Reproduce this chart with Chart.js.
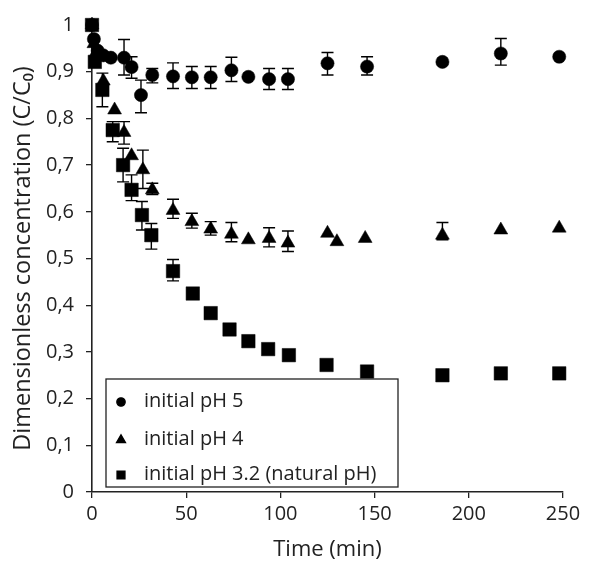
<!DOCTYPE html>
<html>
<head>
<meta charset="utf-8">
<script src="https://cdn.jsdelivr.net/npm/chart.js@4"></script>
<style>
  body { margin: 0; background: #fff; }
  #wrap { width: 599px; height: 565px; }
</style>
</head>
<body>
<div id="wrap"><canvas id="conc-chart" width="599" height="565"></canvas></div>
<script>
// time (min) and C/C0
var ph5Time = [0, 1, 3, 6, 10, 17, 21, 26, 32, 43, 53, 63, 74, 83, 94, 104, 125, 146, 186, 217, 248];
var ph5Conc = [1.0, 0.97, 0.945, 0.935, 0.93, 0.93, 0.91, 0.85, 0.893, 0.89, 0.888, 0.888, 0.903, 0.889, 0.884, 0.884, 0.918, 0.911, 0.921, 0.939, 0.932];
var ph5ErrHi = [null, null, null, null, null, 0.969, 0.932, 0.882, 0.907, 0.919, 0.911, 0.911, 0.931, null, 0.907, 0.907, 0.941, 0.932, null, 0.971, null];
var ph5ErrLo = [null, null, null, null, null, 0.893, 0.886, 0.812, 0.876, 0.864, 0.864, 0.864, 0.879, null, 0.862, 0.862, 0.893, 0.893, null, 0.914, null];

var ph4Time = [0, 1, 2, 6, 12, 17, 21, 27, 32, 43, 53, 63, 74, 83, 94, 104, 125, 130, 145, 186, 217, 248];
var ph4Conc = [1.0, 0.96, 0.94, 0.88, 0.818, 0.77, 0.72, 0.69, 0.647, 0.603, 0.579, 0.563, 0.552, 0.54, 0.543, 0.533, 0.554, 0.536, 0.543, 0.55, 0.561, 0.565];
var ph4ErrHi = [null, null, null, null, null, 0.793, null, 0.732, 0.661, 0.627, 0.597, 0.579, 0.577, null, 0.566, 0.559, null, null, null, 0.577, null, null];
var ph4ErrLo = [null, null, null, null, null, 0.745, null, 0.65, 0.637, 0.586, 0.565, 0.55, 0.536, null, 0.525, 0.515, null, null, null, 0.54, null, null];

var ph32Time = [0, 1.5, 5.5, 11, 16.5, 21, 26.5, 31.5, 43, 53.5, 63, 73, 83, 93.5, 104.5, 124.5, 146, 186, 217, 248];
var ph32Conc = [1.0, 0.921, 0.861, 0.775, 0.70, 0.647, 0.593, 0.55, 0.473, 0.425, 0.383, 0.348, 0.323, 0.306, 0.293, 0.272, 0.258, 0.25, 0.254, 0.254];
var ph32ErrHi = [null, null, 0.897, 0.793, 0.736, 0.679, 0.622, 0.575, 0.498, null, null, null, null, null, null, null, null, null, null, null];
var ph32ErrLo = [null, null, 0.825, 0.75, 0.664, 0.624, 0.561, 0.52, 0.452, null, null, null, null, null, null, null, null, null, null, null];

var seriesLabels = ["initial pH 5", "initial pH 4", "initial pH 3.2 (natural pH)"];
var xTitle = "Time (min)";
var yTitle = "Dimensionless concentration (C/C\u2080)";

var ink = "#000";
var axisColor = "#222";
var textColor = "#222";

function toPoints(xs, ys) {
    return xs.map(function (x, i) { return { x: x, y: ys[i] }; });
}

// vertical error bars with caps, drawn under the markers
var errorBars = {
    id: "errorBars",
    beforeDatasetsDraw: function (chart) {
        let ctx = chart.ctx;
        let xs = chart.scales.x, ys = chart.scales.y;
        ctx.save();
        ctx.strokeStyle = ink;
        ctx.lineWidth = 1.4;
        chart.data.datasets.forEach(function (ds) {
            ds.data.forEach(function (p, i) {
                let hi = ds.errHi[i], lo = ds.errLo[i];
                if (hi == null) return;
                let px = xs.getPixelForValue(p.x);
                let yHi = ys.getPixelForValue(hi);
                let yLo = ys.getPixelForValue(lo);
                ctx.beginPath();
                ctx.moveTo(px, yHi); ctx.lineTo(px, yLo);
                ctx.moveTo(px - 6, yHi); ctx.lineTo(px + 6, yHi);
                ctx.moveTo(px - 6, yLo); ctx.lineTo(px + 6, yLo);
                ctx.stroke();
            });
        });
        ctx.restore();
    }
};

// boxed legend in the lower left of the plot
var boxLegend = {
    id: "boxLegend",
    afterDraw: function (chart) {
        let ctx = chart.ctx;
        let area = chart.chartArea;
        let left = area.left + 14, top = area.bottom - 113;
        let w = 292, h = 108;
        ctx.save();
        ctx.fillStyle = "#fff";
        ctx.fillRect(left, top, w, h);
        ctx.strokeStyle = axisColor;
        ctx.lineWidth = 1.3;
        ctx.strokeRect(left, top, w, h);
        let rows = [22, 60, 95];
        let sizes = [4.2, 5.2, 5.6];
        ctx.font = "20px 'Open Sans'";
        ctx.textBaseline = "middle";
        chart.data.datasets.forEach(function (ds, i) {
            ctx.fillStyle = ink;
            ctx.strokeStyle = ink;
            Chart.helpers.drawPoint(ctx, { pointStyle: ds.pointStyle, radius: sizes[i], borderWidth: 0.5, rotation: 0 },
                left + 15, top + rows[i] + 1);
            ctx.fillStyle = textColor;
            ctx.fillText(ds.label, left + 38, top + rows[i]);
        });
        ctx.restore();
    }
};

let chartData = {
    datasets: [{
        label: seriesLabels[0],
        data: toPoints(ph5Time, ph5Conc),
        errHi: ph5ErrHi, errLo: ph5ErrLo,
        pointStyle: "circle",
        pointRadius: 6.6,
        backgroundColor: ink, borderColor: ink, borderWidth: 0.5
    }, {
        label: seriesLabels[1],
        data: toPoints(ph4Time, ph4Conc),
        errHi: ph4ErrHi, errLo: ph4ErrLo,
        pointStyle: "triangle",
        pointRadius: 8,
        backgroundColor: ink, borderColor: ink, borderWidth: 0.5
    }, {
        label: seriesLabels[2],
        data: toPoints(ph32Time, ph32Conc),
        errHi: ph32ErrHi, errLo: ph32ErrLo,
        pointStyle: "rect",
        pointRadius: 9.5,
        backgroundColor: ink, borderColor: ink, borderWidth: 0.5
    }]
};

let tickFont = { family: "'Open Sans'", size: 20 };

let chartOptions = {
    responsive: false,
    animation: false,
    clip: false,
    layout: { padding: { top: 25, right: 36, left: 0, bottom: 0 } },
    plugins: {
        legend: { display: false },
        tooltip: { enabled: false }
    },
    scales: {
        x: {
            type: "linear",
            min: 0, max: 250,
            afterFit: function (scale) { scale.height = 73; },
            ticks: { stepSize: 50, color: textColor, font: tickFont, padding: 4, maxRotation: 0 },
            grid: { drawOnChartArea: false, drawTicks: true, tickLength: 6, color: axisColor, lineWidth: 1.3 },
            border: { display: true, color: axisColor, width: 1.6 },
            title: { display: true, text: xTitle, color: textColor, font: { family: "'Open Sans'", size: 22 }, padding: { top: 0, bottom: 2 } }
        },
        y: {
            type: "linear",
            min: 0, max: 1,
            afterFit: function (scale) { scale.width = 92; },
            ticks: {
                stepSize: 0.1, color: textColor, font: tickFont, padding: 12,
                callback: function (v) { return String(Math.round(v * 10) / 10).replace(".", ","); }
            },
            grid: { drawOnChartArea: false, drawTicks: true, tickLength: 6, color: axisColor, lineWidth: 1.3 },
            border: { display: true, color: axisColor, width: 1.6 },
            title: { display: true, text: yTitle, color: textColor, font: { family: "'Open Sans'", size: 23.5 }, padding: { top: 9, bottom: 0 } }
        }
    }
};

let ctx = document.getElementById("conc-chart").getContext("2d");
new Chart(ctx, {
    type: "scatter",
    data: chartData,
    options: chartOptions,
    plugins: [errorBars, boxLegend]
});
</script>
</body>
</html>
